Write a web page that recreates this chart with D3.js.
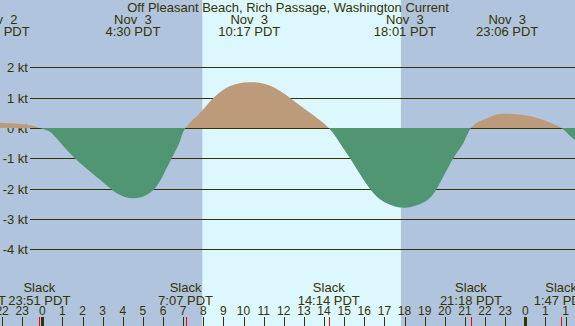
<!DOCTYPE html>
<html>
<head>
<meta charset="utf-8">
<script src="https://cdn.jsdelivr.net/npm/d3@7"></script>
<style>
  html, body { margin: 0; padding: 0; background: #b0c4de; }
  svg { display: block; font-family: "Liberation Sans", Arial, sans-serif; }
  text { white-space: pre; }
</style>
</head>
<body>
<svg id="chart" width="575" height="326"></svg>
<script>
// hours are counted from Nov 3 00:00 PDT
const title = 'Off Pleasant Beach, Rich Passage, Washington Current'

const sunrise = 7.95
const sunset = 17.82

// current: hour -> knots (flood +, ebb -)
const currentHours = [-3.35, -2.8, -2.17, -1.1, -0.46, -0.15,
  0.3, 0.72, 1.62, 2.87, 3.7, 4.5, 5.2, 5.65, 6.01, 6.43, 6.84, 7.117,
  7.84, 8.5, 9.33, 10.283, 11.31, 12.31, 13.3, 14.233,
  14.79, 15.29, 16.28, 17.11, 18.017, 18.93, 19.6, 20.42, 20.92, 21.3,
  21.91, 22.58, 23.1, 24.07, 25.06, 25.783,
  26.1, 26.47, 27.0]
const currentKnots = [0, 0.14, 0.17, 0.13, 0.07, 0,
  -0.1, -0.35, -1.0, -1.71, -2.15, -2.32, -2.2, -1.95, -1.55, -1.0, -0.44, 0,
  0.5, 0.99, 1.38, 1.51, 1.4, 0.99, 0.5, 0,
  -0.5, -1.0, -2.0, -2.48, -2.63, -2.46, -2.0, -1.0, -0.5, 0,
  0.27, 0.44, 0.47, 0.41, 0.22, 0,
  -0.18, -0.4, -0.75]

const slackHours = [-3.35, -0.15, 7.117, 14.233, 21.3, 25.783]
const slackLabels = ['20:39 PDT', '23:51 PDT', '7:07 PDT', '14:14 PDT', '21:18 PDT', '1:47 PDT']

const peakHours = [-2.17, 4.5, 10.283, 18.017, 23.1]
const peakDays = ['Nov  2', 'Nov  3', 'Nov  3', 'Nov  3', 'Nov  3']
const peakLabels = ['21:50 PDT', '4:30 PDT', '10:17 PDT', '18:01 PDT', '23:06 PDT']

const yTicks = [2, 1, 0, -1, -2, -3, -4]
const hourTicks = d3.range(-2, 27)
const hourLabels = ['22', '23', '0', '1', '2', '3', '4', '5', '6', '7', '8', '9', '10', '11', '12',
  '13', '14', '15', '16', '17', '18', '19', '20', '21', '22', '23', '0', '1', '1']
const midnights = [0, 24]

const W = 575
const H = 326
const ink = '#333300'

const x = d3.scaleLinear().domain([0, 24]).range([42.3, 525.3])
const y = d3.scaleLinear().domain([2, -4]).range([67.3, 249.3])
const zeroY = Math.round(y(0))

const svg = d3.select('#chart')
const defs = svg.append('defs')

defs.append('clipPath').attr('id', 'above')
  .append('rect')
  .attr('x', 0).attr('y', 0).attr('width', W).attr('height', zeroY)

defs.append('clipPath').attr('id', 'below')
  .append('rect')
  .attr('x', 0).attr('y', zeroY).attr('width', W).attr('height', H - zeroY)

svg.append('rect')
  .attr('width', W).attr('height', H)
  .attr('fill', '#b0c4de')

// daylight band
svg.append('rect')
  .attr('x', x(sunrise)).attr('y', 0)
  .attr('width', x(sunset) - x(sunrise)).attr('height', H)
  .attr('fill', '#ddf7ff')

// grid lines + labels
svg.append('g')
  .selectAll('line')
  .data(yTicks)
  .join('line')
  .attr('x1', 30).attr('x2', W)
  .attr('y1', d => Math.round(y(d)) + 0.5)
  .attr('y2', d => Math.round(y(d)) + 0.5)
  .attr('stroke', ink)
  .attr('shape-rendering', 'crispEdges')

svg.append('g')
  .selectAll('text')
  .data(yTicks)
  .join('text')
  .attr('x', 28)
  .attr('y', d => Math.round(y(d)) + 5)
  .attr('text-anchor', 'end')
  .attr('font-size', 13)
  .attr('fill', ink)
  .text(d => d + ' kt')

// current fills: one smooth curve, split at zero
const current = currentHours.map((h, i) => [h, currentKnots[i]])

const area = d3.area()
  .curve(d3.curveNatural)
  .x(d => x(d[0]))
  .y0(zeroY)
  .y1(d => y(d[1]))

svg.append('path')
  .attr('d', area(current))
  .attr('clip-path', 'url(#above)')
  .attr('fill', '#bd9a7a')

svg.append('path')
  .attr('d', area(current))
  .attr('clip-path', 'url(#below)')
  .attr('fill', '#519672')

// title and peak labels
svg.append('text')
  .attr('x', 288).attr('y', 12)
  .attr('text-anchor', 'middle')
  .attr('font-size', 13)
  .attr('fill', ink)
  .text(title)

const peaks = svg.append('g')
  .selectAll('g')
  .data(peakHours)
  .join('g')
  .attr('transform', d => `translate(${x(d)},0)`)

peaks.append('text')
  .attr('y', 23.5)
  .attr('text-anchor', 'middle')
  .attr('font-size', 13)
  .attr('fill', ink)
  .text((d, i) => peakDays[i])

peaks.append('text')
  .attr('y', 36)
  .attr('text-anchor', 'middle')
  .attr('font-size', 13)
  .attr('fill', ink)
  .text((d, i) => peakLabels[i])

// slack labels
const slacks = svg.append('g')
  .selectAll('g')
  .data(slackHours)
  .join('g')
  .attr('transform', d => `translate(${x(d)},0)`)

slacks.append('text')
  .attr('y', 292)
  .attr('text-anchor', 'middle')
  .attr('font-size', 13)
  .attr('fill', ink)
  .text('Slack')

slacks.append('text')
  .attr('y', 304.5)
  .attr('text-anchor', 'middle')
  .attr('font-size', 13)
  .attr('fill', ink)
  .text((d, i) => slackLabels[i])

// hour axis
svg.append('g')
  .selectAll('text')
  .data(hourTicks)
  .join('text')
  .attr('x', d => x(d))
  .attr('y', 315)
  .attr('text-anchor', 'middle')
  .attr('font-size', 12)
  .attr('fill', ink)
  .text((d, i) => hourLabels[i])

svg.append('g')
  .selectAll('line')
  .data(hourTicks)
  .join('line')
  .attr('x1', d => Math.round(x(d)) + 0.5)
  .attr('x2', d => Math.round(x(d)) + 0.5)
  .attr('y1', 317).attr('y2', H)
  .attr('stroke', ink)
  .attr('shape-rendering', 'crispEdges')

svg.append('g')
  .selectAll('rect')
  .data(midnights)
  .join('rect')
  .attr('x', d => Math.round(x(d)) - 1)
  .attr('y', 317)
  .attr('width', 3).attr('height', H - 317)
  .attr('fill', ink)

svg.append('g')
  .selectAll('line')
  .data(slackHours)
  .join('line')
  .attr('x1', d => Math.round(x(d)) + 0.5)
  .attr('x2', d => Math.round(x(d)) + 0.5)
  .attr('y1', 317).attr('y2', H)
  .attr('stroke', '#ff0000')
  .attr('shape-rendering', 'crispEdges')
</script>
</body>
</html>
